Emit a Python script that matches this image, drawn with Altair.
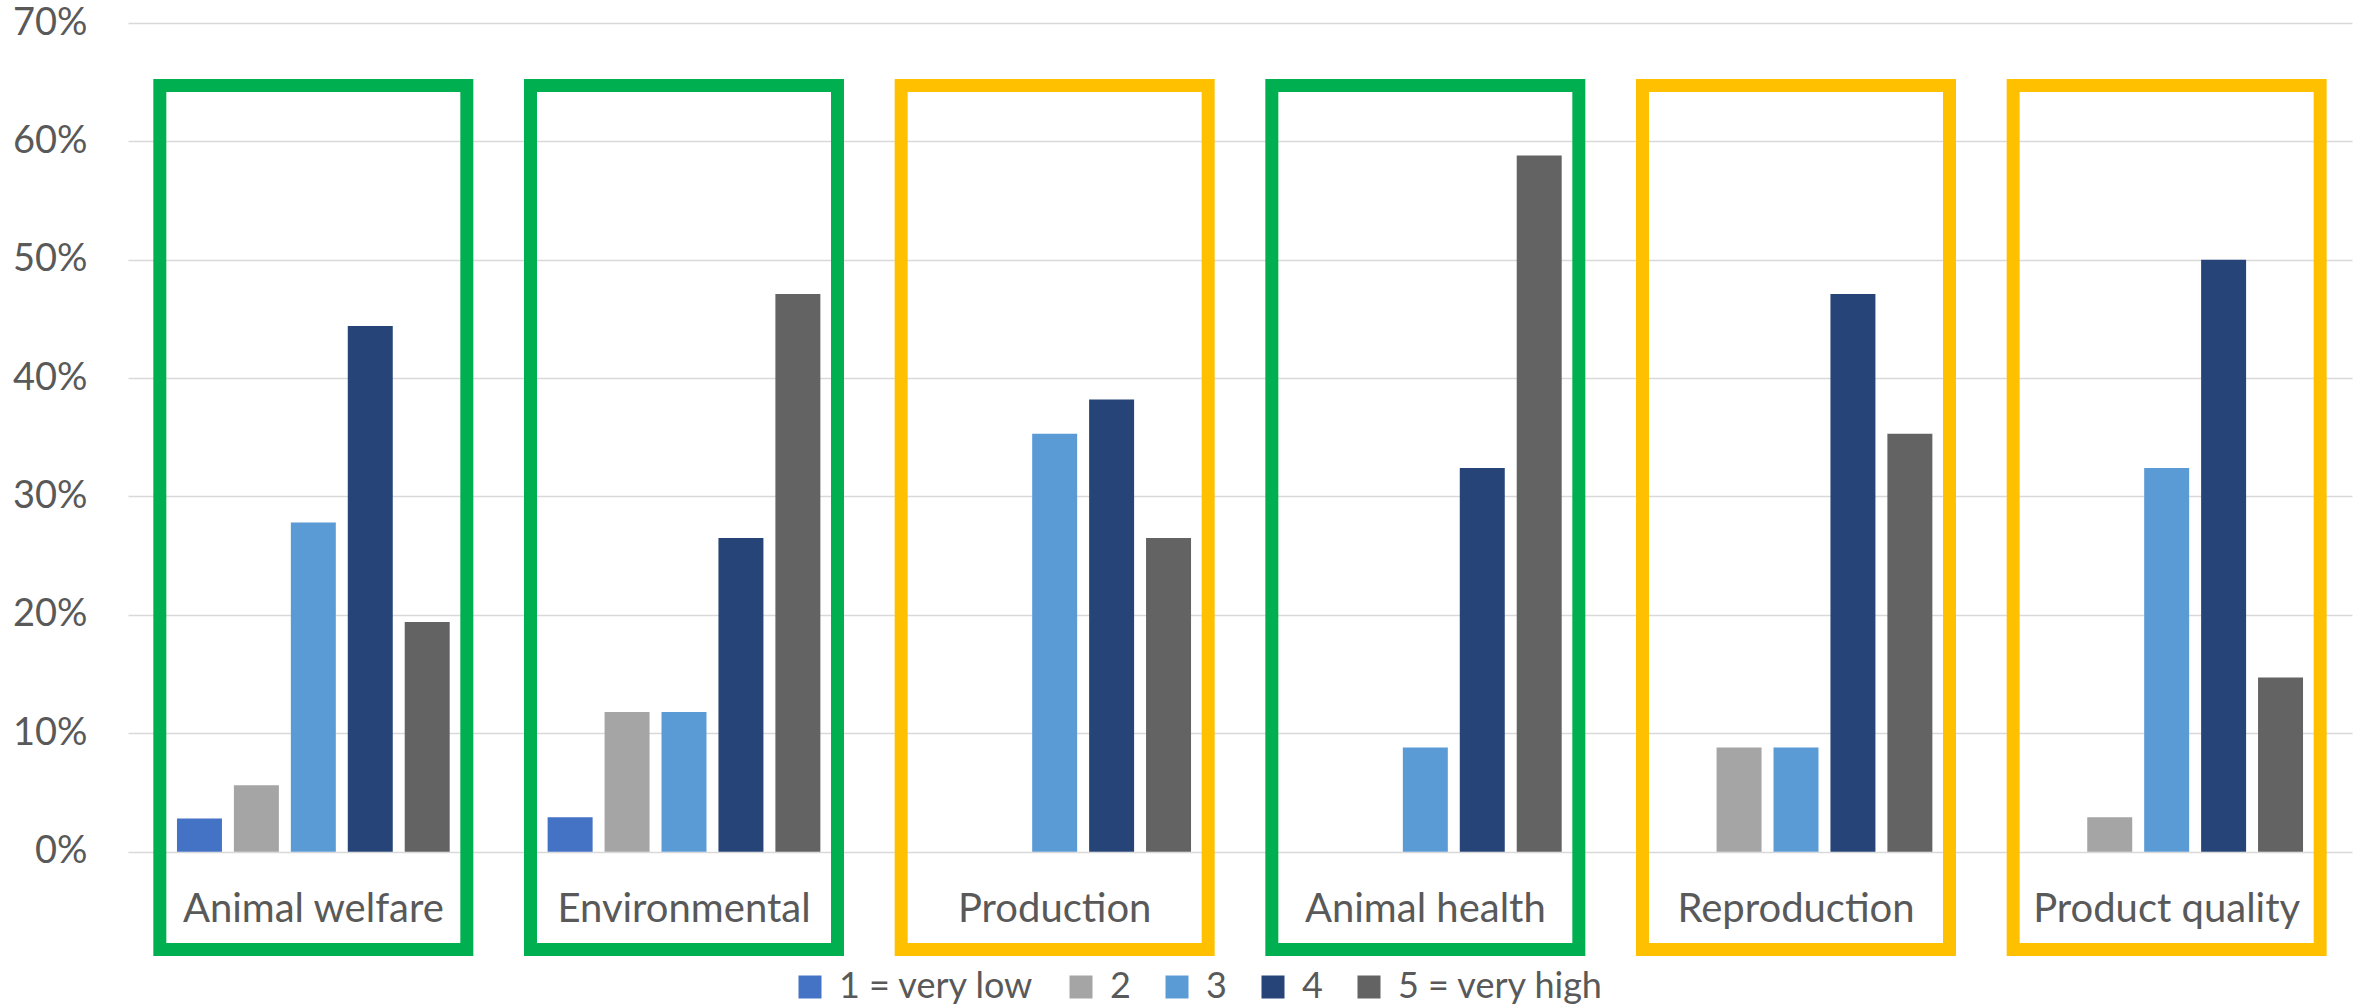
import altair as alt
import pandas as pd

# Survey results: share of respondents per importance level, by area
categories = ["Animal welfare", "Environmental", "Production",
              "Animal health", "Reproduction", "Product quality"]
levels = ["1 = very low", "2", "3", "4", "5 = very high"]

level_1 = [2.8, 2.9, 0.0, 0.0, 0.0, 0.0]
level_2 = [5.6, 11.8, 0.0, 0.0, 8.8, 2.9]
level_3 = [27.8, 11.8, 35.3, 8.8, 8.8, 32.4]
level_4 = [44.4, 26.5, 38.2, 32.4, 47.1, 50.0]
level_5 = [19.4, 47.1, 26.5, 58.8, 35.3, 14.7]

# frame colour around each area group
group_colors = ["#00B050", "#00B050", "#FFC000", "#00B050", "#FFC000", "#FFC000"]

level_colors = ["#4472C4", "#A5A5A5", "#5B9BD5", "#264478", "#636363"]

rows = []
for lvl, vals in zip(levels, [level_1, level_2, level_3, level_4, level_5]):
    for cat, v in zip(categories, vals):
        rows.append({"category": cat, "level": lvl, "share": v / 100.0})
bars_df = pd.DataFrame(rows)

groups_df = pd.DataFrame({"category": categories, "frame": group_colors})

TEXT = "#595959"
FONT = "Lato"

x_enc = alt.X("category:N", sort=categories, axis=None,
              scale=alt.Scale(paddingInner=0, paddingOuter=0))
y_scale = alt.Scale(domain=[-0.1, 0.7], nice=False, zero=False)

frames = alt.Chart(groups_df).mark_bar(
    size=307, fillOpacity=0, strokeWidth=13
).encode(
    x=x_enc,
    y=alt.Y(datum=0.6472, scale=y_scale,
            axis=alt.Axis(values=[0, 0.1, 0.2, 0.3, 0.4, 0.5, 0.6, 0.7],
                          format=".0%", title=None, grid=True,
                          gridColor="#D9D9D9", gridWidth=1.3,
                          domain=False, ticks=False, labelPadding=41,
                          labelFont=FONT, labelFontSize=38,
                          labelColor=TEXT)),
    y2=alt.Y2(datum=-0.0827),
    stroke=alt.Stroke("frame:N", scale=None),
)

bars = alt.Chart(bars_df).mark_bar().encode(
    x=x_enc,
    xOffset=alt.XOffset("level:N", sort=levels,
                        scale=alt.Scale(paddingInner=0.21, paddingOuter=0.86)),
    y=alt.Y("share:Q", scale=y_scale),
    color=alt.Color("level:N", sort=levels,
                    scale=alt.Scale(domain=levels, range=level_colors),
                    legend=alt.Legend(
                        title=None, orient="none", direction="horizontal",
                        legendX=664, legendY=946, columns=5,
                        symbolType="square", symbolSize=529,
                        symbolStrokeWidth=0, labelFont=FONT,
                        labelFontSize=36, labelColor=TEXT, labelLimit=600,
                        labelOffset=11, columnPadding=28, padding=0)),
)

labels = alt.Chart(groups_df).mark_text(
    font=FONT, fontSize=40, color=TEXT, baseline="alphabetic", align="center"
).encode(
    x=alt.X("category:N", sort=categories, axis=None,
            scale=alt.Scale(paddingInner=0, paddingOuter=0),
            bandPosition=0.5),
    y=alt.Y(datum=-0.0595, scale=y_scale),
    text="category:N",
)

chart = alt.layer(frames, bars, labels).properties(
    width=2224, height=947,
    autosize=alt.AutoSizeParams(type="none"),
    padding={"left": 128, "top": 23, "right": 12, "bottom": 34},
    background="white",
).configure_view(stroke=None)

chart.save("out.html", embed_options={"renderer": "svg", "actions": False})
